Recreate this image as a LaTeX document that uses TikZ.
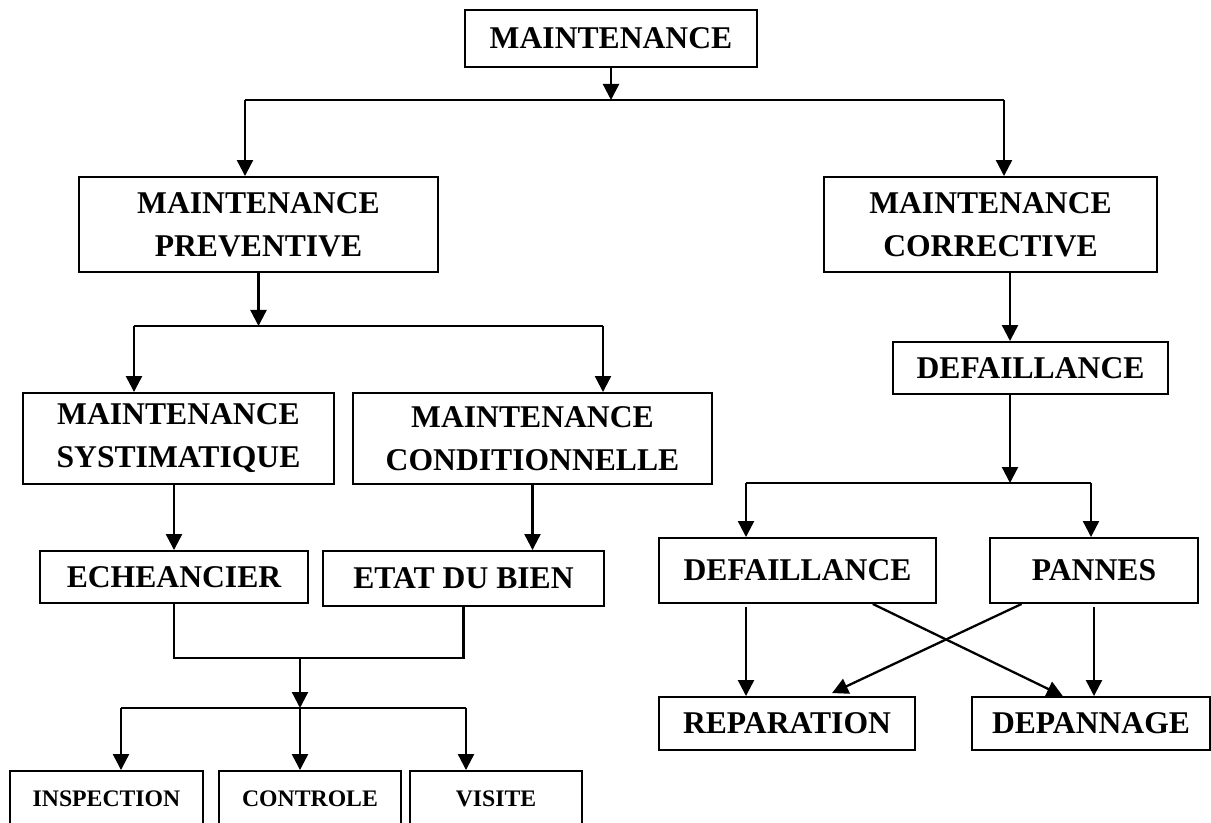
\documentclass[tikz,border=0pt]{standalone}
\usepackage{fontspec}
\setmainfont{Liberation Serif}
\usetikzlibrary{arrows.meta,positioning,calc}
\tikzset{
  boxbig/.style={draw, line width=1.1pt, align=center, inner sep=0pt,
    font=\fontsize{18}{24.5}\selectfont\bfseries},
  boxsmall/.style={boxbig, font=\fontsize{13.5}{16}\selectfont\bfseries},
  flowln/.style={line width=1.3pt},
  flowarr/.style={-{Triangle[length=3.2mm,width=3.2mm]}, line width=1.3pt},
}
\begin{document}
\begin{tikzpicture}
    \useasboundingbox (0,0) rectangle (24.22,-16.46);
    % top level
    \node[boxbig, minimum width=5.84cm, minimum height=1.14cm] (maint) at (12.22,-0.77) {MAINTENANCE};
    \node[boxbig, minimum width=7.18cm, minimum height=1.90cm] (prev) at (5.17,-4.49) {MAINTENANCE\\PREVENTIVE};
    \node[boxbig, minimum width=6.66cm, minimum height=1.90cm] (corr) at (19.81,-4.49) {MAINTENANCE\\CORRECTIVE};
    \coordinate (b1) at (12.22,-2.0);
    \coordinate (b1L) at (4.90,-2.0);
    \coordinate (b1R) at (20.08,-2.0);
    \draw[flowarr] (maint) -- (b1);
    \draw[flowln] (b1L) -- (b1R);
    \draw[flowarr] (b1L) -- (b1L |- prev.north);
    \draw[flowarr] (b1R) -- (b1R |- corr.north);

    % preventive branch
    \node[boxbig, minimum width=6.22cm, minimum height=1.82cm] (syst) at (3.57,-8.77) {MAINTENANCE\\SYSTIMATIQUE};
    \node[boxbig, minimum width=7.18cm, minimum height=1.82cm] (cond) at (10.65,-8.77) {MAINTENANCE\\CONDITIONNELLE};
    \coordinate (b2) at (5.17,-6.52);
    \coordinate (b2L) at (2.68,-6.52);
    \coordinate (b2R) at (12.06,-6.52);
    \draw[flowarr] (prev) -- (b2);
    \draw[flowln] (b2L) -- (b2R);
    \draw[flowarr] (b2L) -- (b2L |- syst.north);
    \draw[flowarr] (b2R) -- (b2R |- cond.north);

    \node[boxbig, minimum width=5.36cm, minimum height=1.04cm] (eche) at (3.48,-11.54) {ECHEANCIER};
    \node[boxbig, minimum width=5.62cm, minimum height=1.10cm] (etat) at (9.27,-11.57) {ETAT DU BIEN};
    \draw[flowarr] (eche.north |- syst.south) -- (eche.north);
    \draw[flowarr] (cond.south) -- (cond.south |- etat.north);

    \coordinate (j3) at (6.0,-13.16);
    \coordinate (b3) at (6.0,-14.16);
    \coordinate (b3L) at (2.42,-14.16);
    \coordinate (b3R) at (9.32,-14.16);
    \draw[flowln] (eche.south) |- (j3) -| (etat.south);
    \draw[flowarr] (j3) -- (b3);
    \draw[flowln] (b3L) -- (b3R);

    \node[boxsmall, minimum width=3.86cm, minimum height=1.10cm] (insp) at (2.13,-15.97) {INSPECTION};
    \node[boxsmall, minimum width=3.64cm, minimum height=1.10cm] (ctrl) at (6.20,-15.97) {CONTROLE};
    \node[boxsmall, minimum width=3.44cm, minimum height=1.10cm] (visit) at (9.92,-15.97) {VISITE};
    \draw[flowarr] (b3L) -- (b3L |- insp.north);
    \draw[flowarr] (b3) -- (b3 |- ctrl.north);
    \draw[flowarr] (b3R) -- (b3R |- visit.north);

    % corrective branch
    \node[boxbig, minimum width=5.50cm, minimum height=1.04cm] (defa) at (20.61,-7.36) {DEFAILLANCE};
    \coordinate (b4) at (20.20,-9.66);
    \coordinate (b4L) at (14.92,-9.66);
    \coordinate (b4R) at (21.82,-9.66);
    \draw[flowarr] (corr.south -| b4) -- (defa.north -| b4);
    \draw[flowarr] (defa.south -| b4) -- (b4);
    \draw[flowln] (b4L) -- (b4R);

    \node[boxbig, minimum width=5.54cm, minimum height=1.30cm] (defb) at (15.95,-11.41) {DEFAILLANCE};
    \node[boxbig, minimum width=4.16cm, minimum height=1.30cm] (pann) at (21.88,-11.41) {PANNES};
    \draw[flowarr] (b4L) -- (b4L |- defb.north);
    \draw[flowarr] (b4R) -- (b4R |- pann.north);

    \node[boxbig, minimum width=5.12cm, minimum height=1.06cm] (repa) at (15.74,-14.47) {REPARATION};
    \node[boxbig, minimum width=4.76cm, minimum height=1.06cm] (depa) at (21.82,-14.47) {DEPANNAGE};
    \draw[flowarr] ([yshift=-2pt]defb.south -| b4L) -- (repa.north -| b4L);
    \draw[flowarr] ([yshift=-2pt]pann.south) -- (depa.north -| pann.south);
    \draw[flowarr] ($(defb.south)!0.54!(defb.south east)$) -- ($(depa.north)!0.235!(depa.north west)$);
    \draw[flowarr, shorten >=4pt] ($(pann.south)!0.69!(pann.south west)$) -- ($(repa.north)!0.3!(repa.north east)$);
\end{tikzpicture}
\end{document}
